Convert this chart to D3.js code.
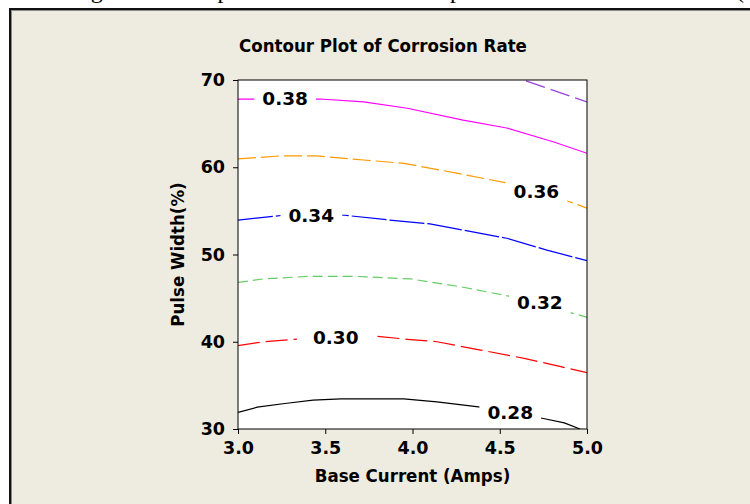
<!DOCTYPE html>
<html>
<head>
<meta charset="utf-8">
<script src="https://cdn.jsdelivr.net/npm/d3@7"></script>
<style>
  body { margin: 0; background: #ffffff; }
  svg { display: block; }
</style>
</head>
<body>
<div id="main"></div>
<script>
// contour values (Corrosion Rate) and their lines
const levels = [0.28, 0.30, 0.32, 0.34, 0.36, 0.38, 0.40];
const xTicks = [3.0, 3.5, 4.0, 4.5, 5.0];
const yTicks = [30, 40, 50, 60, 70];

// each contour: [base current, pulse width]
const c028 = [[3.0, 31.9], [3.11, 32.5], [3.28, 32.95], [3.43, 33.3], [3.59, 33.45], [3.95, 33.45], [4.14, 33.1], [4.39, 32.5], [4.75, 31.2], [4.87, 30.7], [4.96, 30.0]];
const c030 = [[3.0, 39.55], [3.145, 40.0], [3.34, 40.3], [3.78, 40.66], [3.97, 40.28], [4.14, 40.0], [4.39, 39.05], [4.64, 38.1], [4.85, 37.14], [5.0, 36.45]];
const c032 = [[3.0, 46.8], [3.145, 47.2], [3.41, 47.5], [3.66, 47.5], [3.99, 47.2], [4.29, 46.25], [4.56, 45.2], [4.92, 43.26], [5.0, 42.8]];
const c034 = [[3.0, 53.95], [3.26, 54.5], [3.61, 54.5], [3.87, 53.95], [4.1, 53.5], [4.29, 52.8], [4.54, 51.86], [4.77, 50.5], [5.0, 49.3]];
const c036 = [[3.0, 60.95], [3.24, 61.3], [3.45, 61.3], [3.72, 60.83], [3.95, 60.45], [4.26, 59.3], [4.54, 58.2], [4.9, 56.05], [5.0, 55.3]];
const c038 = [[3.0, 67.8], [3.1, 67.8], [3.47, 67.82], [3.72, 67.5], [3.97, 66.76], [4.29, 65.4], [4.54, 64.5], [4.81, 62.9], [5.0, 61.6]];
const c040 = [[4.65, 69.9], [4.94, 67.9], [5.0, 67.5]];
const contours = [c028, c030, c032, c034, c036, c038, c040];

// where the level labels sit (data coords), last level has none
const labelX = [4.56, 3.56, 4.73, 3.42, 4.71, 3.27];
const labelY = [31.95, 40.5, 44.5, 54.5, 57.2, 67.9];

// styles per level
const lineColors = ["#000000", "#ff0000", "#66cc66", "#0000ff", "#ff9900", "#ff00ff", "#9a40e0"];
const lineDash = ["none", "22,6", "10,5", "35,3", "18,5", "none", "20,6"];
const labelPad = [8, 16, 8, 8, 8, 8];

const W = 750, H = 504;
const plot = { left: 238, top: 80, right: 587, bottom: 429 };

const svg = d3.select("#main")
    .append("svg")
    .attr("width", W)
    .attr("height", H);

// caption of the page, mostly cut off above the picture
svg.append("text")
    .attr("x", 744)
    .attr("y", -2)
    .attr("text-anchor", "end")
    .style("font-family", "'Liberation Serif', 'Times New Roman', serif")
    .style("font-size", "24px")
    .text("Fig. 6 Contour plot of base current and pulse width on corrosion rate (");

// the grey graph window frame
svg.append("rect")
    .attr("x", 10).attr("y", 9)
    .attr("width", W + 20).attr("height", H + 20)
    .attr("fill", "#eeebe1")
    .attr("stroke", "#111")
    .attr("stroke-width", 2);
svg.append("rect")
    .attr("x", 11.5).attr("y", 10.5)
    .attr("width", W + 20).attr("height", H + 20)
    .attr("fill", "none")
    .attr("stroke", "#8a8a8a")
    .attr("stroke-width", 1);

const x = d3.scaleLinear().domain([3, 5]).range([plot.left, plot.right]);
const y = d3.scaleLinear().domain([30, 70]).range([plot.bottom, plot.top]);

svg.append("rect")
    .attr("x", plot.left).attr("y", plot.top)
    .attr("width", plot.right - plot.left)
    .attr("height", plot.bottom - plot.top)
    .attr("fill", "#ffffff");

svg.append("clipPath").attr("id", "clip")
    .append("rect")
    .attr("x", plot.left).attr("y", plot.top)
    .attr("width", plot.right - plot.left)
    .attr("height", plot.bottom - plot.top);

const line = d3.line()
    .x(function (d) { return x(d[0]); })
    .y(function (d) { return y(d[1]); });

const g = svg.append("g").attr("clip-path", "url(#clip)");

g.selectAll("path.contour")
    .data(contours)
    .join("path")
    .attr("class", "contour")
    .attr("d", line)
    .attr("fill", "none")
    .attr("stroke", function (d, i) { return lineColors[i]; })
    .attr("stroke-width", 1.2)
    .attr("stroke-dasharray", function (d, i) { return lineDash[i]; });

// level labels, with a white patch that breaks the line
const labels = g.selectAll("g.lab")
    .data(labelX.map(function (v, i) { return { x: v, y: labelY[i], level: levels[i], pad: labelPad[i] }; }))
    .join("g")
    .attr("class", "lab");

labels.append("rect")
    .attr("fill", "#ffffff");

labels.append("text")
    .attr("x", function (d) { return x(d.x); })
    .attr("y", function (d) { return y(d.y); })
    .attr("dy", "0.36em")
    .attr("text-anchor", "middle")
    .style("font-family", "'DejaVu Sans', Verdana, sans-serif")
    .style("font-weight", "bold")
    .style("font-size", "18.5px")
    .text(function (d) { return d.level.toFixed(2); });

labels.each(function (d) {
    const t = d3.select(this).select("text");
    const b = t.node().getBBox();
    d3.select(this).select("rect")
        .attr("x", b.x - d.pad).attr("y", b.y)
        .attr("width", b.width + 2 * d.pad).attr("height", b.height);
});

// plot box
svg.append("rect")
    .attr("x", plot.left).attr("y", plot.top)
    .attr("width", plot.right - plot.left)
    .attr("height", plot.bottom - plot.top)
    .attr("fill", "none")
    .attr("stroke", "#000")
    .attr("stroke-width", 1);

// axes
const xAxis = svg.append("g")
    .attr("transform", `translate(0, ${plot.bottom})`)
    .call(d3.axisBottom(x).tickValues(xTicks).tickFormat(d3.format(".1f")).tickSize(5).tickSizeOuter(0).tickPadding(8));
const yAxis = svg.append("g")
    .attr("transform", `translate(${plot.left}, 0)`)
    .call(d3.axisLeft(y).tickValues(yTicks).tickSize(5).tickSizeOuter(0).tickPadding(8));

[xAxis, yAxis].forEach(function (a) {
    a.select(".domain").remove();
    a.selectAll("text")
        .style("font-family", "'DejaVu Sans', Verdana, sans-serif")
        .style("font-weight", "bold")
        .style("font-size", "17.5px")
        .attr("fill", "#000");
    a.selectAll("line").attr("stroke", "#000");
});

// titles
const condensed = "'DejaVu Sans Condensed', 'DejaVu Sans', sans-serif";
svg.append("text")
    .attr("x", 383)
    .attr("y", 52)
    .attr("text-anchor", "middle")
    .style("font-family", condensed)
    .style("font-weight", "bold")
    .style("font-size", "18.5px")
    .text("Contour Plot of Corrosion Rate");

svg.append("text")
    .attr("x", (plot.left + plot.right) / 2)
    .attr("y", 482)
    .attr("text-anchor", "middle")
    .style("font-family", condensed)
    .style("font-weight", "bold")
    .style("font-size", "18.5px")
    .text("Base Current (Amps)");

svg.append("text")
    .attr("transform", `translate(184, ${(plot.top + plot.bottom) / 2}) rotate(-90)`)
    .attr("text-anchor", "middle")
    .style("font-family", condensed)
    .style("font-weight", "bold")
    .style("font-size", "18.5px")
    .text("Pulse Width(%)");
</script>
</body>
</html>
